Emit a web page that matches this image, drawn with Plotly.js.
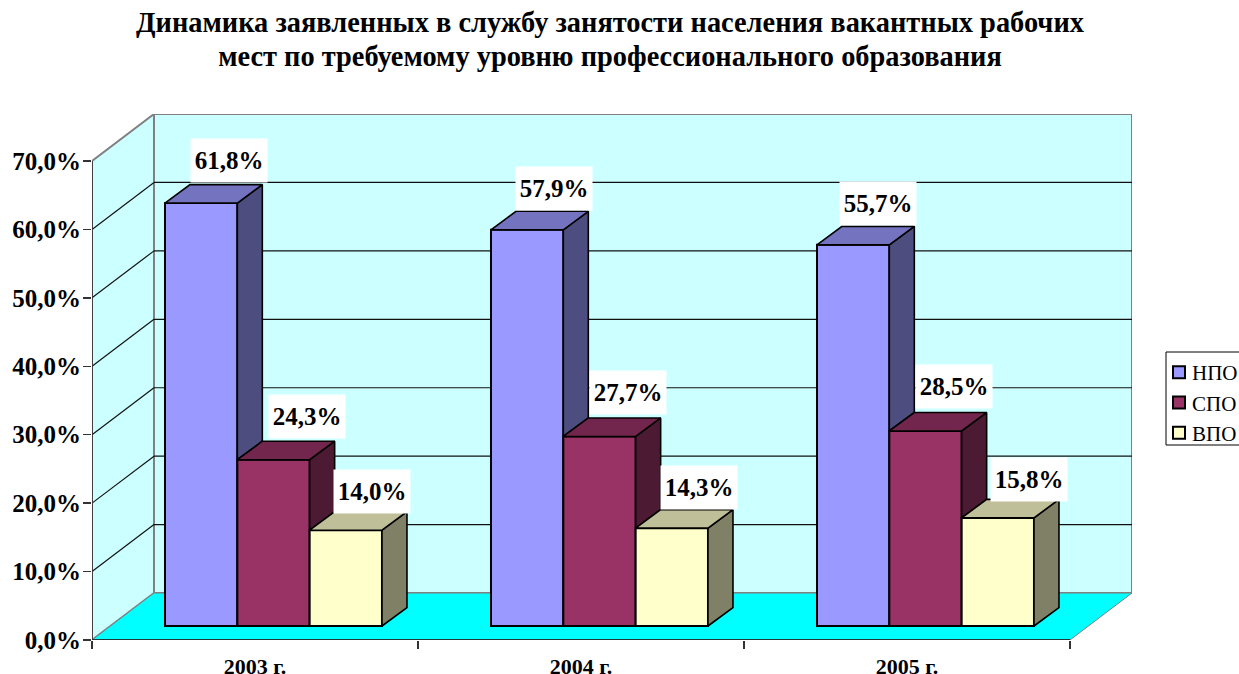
<!DOCTYPE html>
<html><head><meta charset="utf-8">
<script src="https://cdn.plot.ly/plotly-3.0.1.min.js"></script>
<style>html,body{margin:0;padding:0;background:#fff;overflow:hidden}</style>
</head><body><div id="chart" style="width:1239px;height:674px"></div>
<script>
const categories = ['2003 г.', '2004 г.', '2005 г.'];
const seriesNames = ['НПО', 'СПО', 'ВПО'];
const npoValues = [61.8, 57.9, 55.7];
const spoValues = [24.3, 27.7, 28.5];
const vpoValues = [14.0, 14.3, 15.8];
const valueLabels = [
  ['61,8%', '57,9%', '55,7%'],
  ['24,3%', '27,7%', '28,5%'],
  ['14,0%', '14,3%', '15,8%']
];
const yTicks = [0, 10, 20, 30, 40, 50, 60, 70];
const yTickText = ['0,0%', '10,0%', '20,0%', '30,0%', '40,0%', '50,0%', '60,0%', '70,0%'];

const frontColors = ['#9999FF', '#993366', '#FFFFCC'];
const topColors = ['#7373BF', '#73264D', '#BFBF99'];
const sideColors = ['#4D4D80', '#4D1A33', '#808066'];
const FONT = '"Liberation Serif", "Times New Roman", serif';

const pxX = 326, pxY = 6.847;                 // axis scale, px per unit
const wallDx = 62 / pxX, wallDy = 47 / pxY;   // depth of the floor
const barDx = 25 / pxX, barDy = 18.5 / pxY;   // depth of a bar
const barBase = 14 / pxY;                     // bars stand in the middle of the floor
const groupShift = 0.5567;                    // group centre in a category
const bargap = 0.3344;
const barW = (1 - bargap) / 3;
// placement of the value labels relative to the top of their bar, px
const labelShiftX = [[28, 27, 25], [33.5, 29, 29], [26, 27, 31]];
const labelShiftY = [[43, 41, 41], [43, 44, 44], [39, 41, 38]];

const allValues = [npoValues, spoValues, vpoValues];
const data = [];
allValues.forEach((vals, s) => {
  data.push({
    type: 'bar', name: seriesNames[s],
    x: categories.map((_, i) => i + groupShift),
    y: vals, base: barBase,
    marker: {color: frontColors[s], line: {color: '#000', width: 2}},
    hoverinfo: 'skip', cliponaxis: false
  });
});
const annotations = [];
categories.forEach((_, i) => {
  allValues.forEach((vals, s) => {
    const x0 = i + groupShift - 1.5 * barW + s * barW, x1 = x0 + barW;
    const top = vals[i] + barBase;
    const next = s < 2 ? allValues[s + 1][i] + barBase : barBase;
    const poly = (xs, ys, c) => data.push({
      type: 'scatter', mode: 'lines', x: xs, y: ys, fill: 'toself', fillcolor: c,
      line: {color: '#000', width: 1.6}, showlegend: false, hoverinfo: 'skip', cliponaxis: false
    });
    poly([x1, x1 + barDx, x1 + barDx, x1, x1],
         [top, top + barDy, next + barDy, next, top], sideColors[s]);
    poly([x0, x0 + barDx, x1 + barDx, x1, x0],
         [top, top + barDy, top + barDy, top, top], topColors[s]);
    annotations.push({
      x: (x0 + x1) / 2, y: top, xref: 'x', yref: 'y',
      text: '<b>' + valueLabels[s][i] + '</b>', showarrow: false,
      xshift: labelShiftX[s][i], yshift: labelShiftY[s][i], bgcolor: '#fff', borderpad: 4,
      width: 68, height: 35,
      font: {family: FONT, size: 25, color: '#000'}
    });
  });
});

const X3 = categories.length;
const Y7 = yTicks[yTicks.length - 1];
const wall = {type: 'path', xref: 'x', yref: 'y', layer: 'below', line: {color: '#808080', width: 2}};
const fmt = pts => 'M' + pts.map(p => p[0] + ',' + p[1]).join('L') + 'Z';
const shapes = [
  Object.assign({}, wall, {fillcolor: '#CCFFFF',
    path: fmt([[wallDx, wallDy], [X3 + wallDx, wallDy], [X3 + wallDx, Y7 + wallDy], [wallDx, Y7 + wallDy]])}),
  Object.assign({}, wall, {fillcolor: '#CCFFFF',
    path: fmt([[0, 0], [wallDx, wallDy], [wallDx, Y7 + wallDy], [0, Y7]])}),
  {type: 'path', xref: 'x', yref: 'y', layer: 'below', fillcolor: '#00FFFF', line: {color: '#808080', width: 1},
    path: fmt([[0, 0], [X3, 0], [X3 + wallDx, wallDy], [wallDx, wallDy]])}
];
const ln = (x0, y0, x1, y1, c, w) => shapes.push({type: 'line', xref: 'x', yref: 'y', layer: 'below',
  x0, y0, x1, y1, line: {color: c, width: w}});
yTicks.slice(1, -1).forEach(v => {
  ln(wallDx, v + wallDy, X3 + wallDx, v + wallDy, '#111', 1.2);
  ln(0, v, wallDx, v + wallDy, '#111', 1.2);
});
ln(0, 0, X3, 0, '#111', 1.6);
ln(0, 0, 0, Y7, '#333', 1.6);
// legend box
shapes.push({type: 'rect', xref: 'paper', yref: 'paper',
  x0: (1166 - 92) / 1040, x1: (1260 - 92) / 1040,
  y0: (640 - 445) / 526, y1: (640 - 352) / 526,
  line: {color: '#000', width: 1}, fillcolor: 'rgba(0,0,0,0)'});

const layout = {
  width: 1239, height: 674,
  paper_bgcolor: '#fff', plot_bgcolor: 'rgba(0,0,0,0)',
  margin: {l: 92, r: 107, t: 114, b: 34, autoexpand: false},
  barmode: 'group', bargap: bargap, bargroupgap: 0,
  title: {text: '<b>Динамика заявленных в службу занятости населения вакантных рабочих<br>мест по требуемому уровню профессионального образования</b>',
    font: {family: FONT, size: 28.4, color: '#000'}, x: 610 / 1239, xanchor: 'center', y: 0.9518, yanchor: 'top', yref: 'container'},
  xaxis: {range: [0, X3 + wallDx], showgrid: false, zeroline: false, showline: false,
    tickmode: 'array', tickvals: categories.map((_, i) => i + 0.5), ticktext: categories.map(c => '<b>' + c + '</b>'),
    ticks: '', ticklabelstandoff: 11, tickfont: {family: FONT, size: 22, color: '#000'},
    minor: {tickmode: 'array', tickvals: [0, 1, 2, 3], ticks: 'outside', ticklen: 8, tickcolor: '#333', tickwidth: 1.4, showgrid: false}},
  yaxis: {range: [0, Y7 + wallDy], showgrid: false, zeroline: false, showline: false,
    tickmode: 'array', tickvals: yTicks, ticktext: yTickText.map(t => '<b>' + t + '</b>'),
    ticks: 'outside', ticklen: 8, tickcolor: '#333', tickwidth: 1.4, ticklabelstandoff: -3,
    tickfont: {family: FONT, size: 25, color: '#000'}},
  legend: {x: (1159 - 92) / 1040, xanchor: 'left', y: (640 - 352) / 526, yanchor: 'top',
    font: {family: FONT, size: 21, color: '#000'}, bgcolor: 'rgba(0,0,0,0)', borderwidth: 0,
    itemwidth: 30, traceorder: 'normal', itemclick: false, itemdoubleclick: false},
  shapes, annotations, showlegend: true
};
Plotly.newPlot('chart', data, layout, {displayModeBar: false, staticPlot: true}).then(() => {
  document.querySelectorAll('.legendtext').forEach(t => t.setAttribute('x', 33));
  const lines = document.querySelectorAll('.gtitle .line');
  if (lines.length > 1) {
    lines[1].setAttribute('dy', 0);
    lines[1].setAttribute('y', parseFloat(lines[0].getAttribute('y')) + 34);
  }
});
</script></body></html>
